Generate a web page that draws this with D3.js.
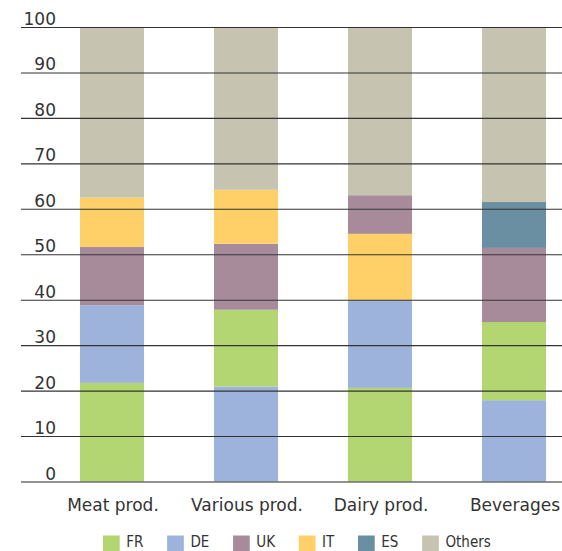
<!DOCTYPE html>
<html>
<head>
<meta charset="utf-8">
<script src="https://cdn.jsdelivr.net/npm/d3@7"></script>
<style>
  html, body { margin: 0; padding: 0; background: #fff; }
  svg { display: block; }
</style>
</head>
<body>
<svg id="chart" width="562" height="551"></svg>
<script>
// Market shares (%) by product group
const categories = ["Meat prod.", "Various prod.", "Dairy prod.", "Beverages"];
const seriesNames = ["FR", "DE", "UK", "IT", "ES", "Others"];
const FR     = [21.8, 16.9, 20.7, 17.2];
const DE     = [17.1, 21.0, 19.3, 18.0];
const UK     = [12.8, 14.5, 8.5, 16.3];
const IT     = [10.9, 11.9, 14.6, 0];
const ES     = [0, 0, 0, 10.1];
const Others = [37.4, 35.7, 36.9, 38.4];
const yTicks = [0, 10, 20, 30, 40, 50, 60, 70, 80, 90, 100];
const colors = ["#b3d672", "#9eb3db", "#a78b9a", "#fed067", "#6a8fa3", "#c6c4b1"];

const seriesValues = [FR, DE, UK, IT, ES, Others];

const svg = d3.select("#chart");

const x = d3.scaleBand()
  .domain(categories)
  .range([45, 581])
  .paddingInner(0.522)
  .paddingOuter(0.261);

const y = d3.scaleLinear().domain([0, 100]).range([482, 27.5]);

const color = d3.scaleOrdinal().domain(seriesNames).range(colors);

// Each bar stacks its countries from largest to smallest, "Others" on top
const segments = [];
categories.forEach((cat, ci) => {
  const items = seriesNames.map((name, si) => ({ name, value: seriesValues[si][ci] }))
    .filter(d => d.value > 0);
  const countries = items.filter(d => d.name !== "Others").sort((a, b) => b.value - a.value);
  const rest = items.filter(d => d.name === "Others");
  let acc = 0;
  countries.concat(rest).forEach(d => {
    segments.push({ cat, name: d.name, y0: acc, y1: acc + d.value });
    acc += d.value;
  });
});

svg.append("g")
  .selectAll("rect")
  .data(segments)
  .join("rect")
  .attr("x", d => x(d.cat))
  .attr("width", x.bandwidth())
  .attr("y", d => y(d.y1))
  .attr("height", d => y(d.y0) - y(d.y1))
  .attr("fill", d => color(d.name));

// Horizontal gridlines over the bars, with labels sitting on them
const yAxis = svg.append("g");
yAxis.selectAll("line")
  .data(yTicks)
  .join("line")
  .attr("x1", 21)
  .attr("x2", 562)
  .attr("y1", d => y(d))
  .attr("y2", d => y(d))
  .attr("stroke", d => d === 0 ? "#6e6e6e" : "#333")
  .attr("stroke-width", d => d === 0 ? 1.6 : 1.1);

yAxis.selectAll("text")
  .data(yTicks)
  .join("text")
  .attr("x", 56)
  .attr("y", d => y(d) - 2.5)
  .attr("text-anchor", "end")
  .attr("font-family", "DejaVu Sans")
  .attr("font-size", 17)
  .attr("fill", "#333")
  .text(d => d);

// Category labels
svg.append("g")
  .selectAll("text")
  .data(categories)
  .join("text")
  .attr("x", d => x(d) + x.bandwidth() / 2 + 1)
  .attr("y", 510.5)
  .attr("text-anchor", "middle")
  .attr("font-family", "DejaVu Sans")
  .attr("font-size", 17)
  .attr("fill", "#333")
  .text(d => d);

// Legend
const legend = svg.append("g");
let lx = 103;
seriesNames.forEach(name => {
  legend.append("rect")
    .attr("x", lx)
    .attr("y", 535.5)
    .attr("width", 16.7)
    .attr("height", 15.5)
    .attr("fill", color(name));
  const t = legend.append("text")
    .attr("x", lx + 23.3)
    .attr("y", 547)
    .attr("font-family", "DejaVu Sans Condensed")
    .attr("font-size", 15)
    .attr("fill", "#333")
    .text(name);
  lx = lx + 23.3 + t.node().getComputedTextLength() + 23.7;
});
</script>
</body>
</html>
